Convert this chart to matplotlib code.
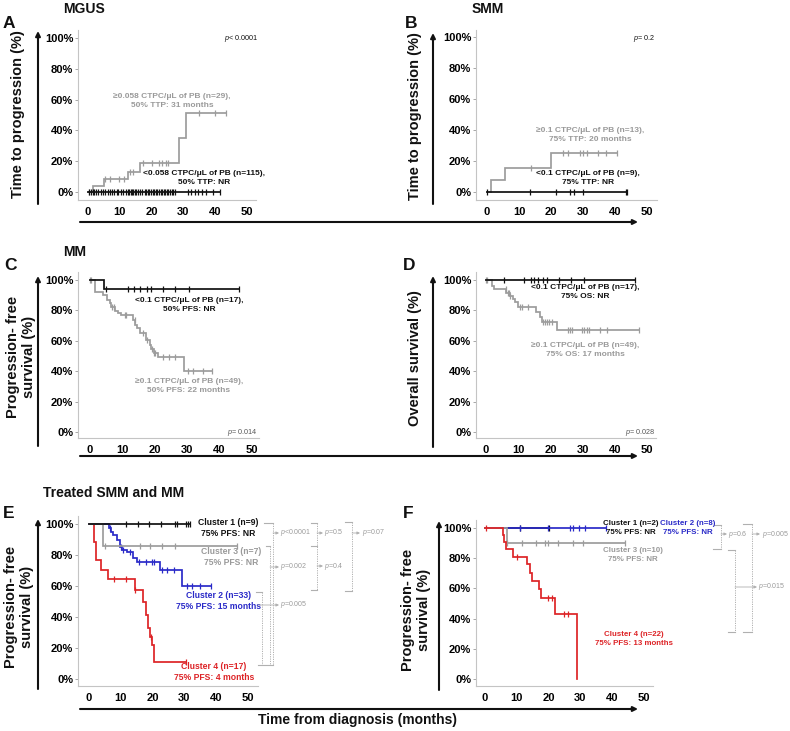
import numpy as np
import matplotlib
matplotlib.use("Agg")
import matplotlib.pyplot as plt

plt.rcParams['font.family'] = ['Liberation Sans', 'DejaVu Sans']
plt.rcParams['mathtext.fontset'] = 'custom'
plt.rcParams['mathtext.rm'] = 'Liberation Sans'
plt.rcParams['mathtext.it'] = 'Liberation Sans:italic'
plt.rcParams['mathtext.bf'] = 'Liberation Sans:bold'

# ---------------- data ----------------
x_ticks = [0, 10, 20, 30, 40, 50]
y_ticks = [0, 20, 40, 60, 80, 100]
y_ticklabels = ["0%", "20%", "40%", "60%", "80%", "100%"]

# Panel A (MGUS, time to progression, cumulative)
A_hi_t = [0, 1.5, 5.0, 12.6, 16.3, 28.5, 30.8]
A_hi_y = [0, 4.2, 8.3, 12.9, 19.0, 35.2, 51.4]
A_hi_end = 43.3
A_hi_cens = [0.2, 5.5, 7.0, 9.8, 11.2, 13.3, 14.0, 17.2, 20.0, 22.2, 23.3, 24.4, 25.2, 34.8, 40.0, 43.3]
A_lo_t = [0]
A_lo_y = [0]
A_lo_end = 41.4
A_lo_cens = [0.3, 1.0, 1.6, 2.0, 2.5, 3.0, 4.2, 4.8, 5.5, 6.2, 7.0, 7.5, 8.3, 9.0, 9.4, 10.5, 11.0,
             12.0, 12.6, 13.0, 13.4, 13.8, 14.2, 14.7, 15.2, 15.8, 16.4, 17.0, 17.8, 18.3, 18.8,
             19.3, 19.8, 20.3, 20.8, 21.3, 21.8, 22.3, 22.8, 23.3, 23.8, 24.3, 24.8, 25.3, 25.8,
             26.3, 26.8, 27.3, 31.5, 32.5, 33.5, 34.5, 36.0, 37.2, 39.3, 41.4]

# Panel B (SMM)
B_hi_t = [0, 1.4, 5.7, 20.1]
B_hi_y = [0, 7.7, 15.4, 25.0]
B_hi_end = 40.5
B_hi_cens = [13.8, 23.9, 25.4, 29.1, 30.1, 31.1, 34.7, 37.1, 40.5]
B_lo_t = [0]
B_lo_y = [0]
B_lo_end = 43.6
B_lo_cens = [0.0, 13.5, 21.5, 26.0, 27.2, 30.0, 43.4, 43.6]

# Panel C (MM, PFS)
C_lo_t = [0, 4.2]
C_lo_y = [100, 94.1]
C_lo_end = 46.0
C_lo_cens = [5.0, 11.7, 13.6, 15.3, 17.7, 18.7, 22.5, 26.3, 30.7, 46.0]
C_hi_t = [0, 1.4, 4.0, 5.4, 6.1, 6.6, 7.6, 8.6, 9.5, 13.3, 14.0, 14.6, 15.3, 17.4, 18.4, 18.9, 19.8, 21.0, 28.9]
C_hi_y = [100, 92.3, 90.1, 86.8, 84.6, 82.4, 79.8, 78.1, 77.0, 73.7, 70.4, 68.2, 64.9, 60.5, 57.2, 54.4, 52.2, 49.5, 39.9]
C_hi_end = 37.8
C_hi_cens = [0.0, 0.3, 6.8, 7.4, 10.7, 11.2, 13.8, 16.4, 17.7, 19.1, 19.9, 20.1, 22.5, 24.3, 26.1,
             30.2, 31.8, 34.9, 37.8]

# Panel D (MM, OS)
D_lo_t = [0]
D_lo_y = [100]
D_lo_end = 46.4
D_lo_cens = [5.5, 11.8, 14.1, 14.8, 16.0, 17.8, 19.0, 22.6, 26.5, 30.5, 46.4]
D_hi_t = [0, 1.8, 2.6, 6.2, 7.4, 8.4, 9.1, 9.9, 15.6, 16.8, 17.3, 22.2]
D_hi_y = [100, 95.9, 93.8, 91.7, 89.6, 87.5, 85.3, 82.0, 79.2, 75.5, 72.2, 67.2]
D_hi_end = 47.5
D_hi_cens = [0.0, 0.4, 6.1, 6.7, 7.1, 7.6, 10.6, 11.1, 13.1, 17.8, 18.3, 18.8, 19.7, 20.4, 25.6,
             26.1, 26.6, 29.7, 30.4, 31.3, 32.1, 35.4, 37.5, 47.5]

# Panel E (treated SMM and MM, clusters)
E_c1_t = [0]
E_c1_y = [100]
E_c1_end = 31.7
E_c1_cens = [11.7, 15.4, 18.8, 22.7, 26.9, 27.8, 30.6, 31.1, 31.7]
E_c3_t = [0, 4.4]
E_c3_y = [100, 85.7]
E_c3_end = 46.5
E_c3_cens = [4.9, 15.9, 19.1, 23.0, 26.9, 46.5]
E_c2_t = [0, 6.2, 6.8, 7.5, 8.9, 9.6, 10.4, 12.0, 13.8, 15.2, 22.2, 29.2]
E_c2_y = [100, 97.2, 95.0, 92.9, 89.7, 85.4, 83.2, 81.7, 78.3, 75.3, 70.3, 60.0]
E_c2_end = 38.5
E_c2_cens = [6.5, 10.2, 10.7, 12.8, 15.8, 17.8, 19.9, 20.4, 23.0, 24.6, 26.7, 30.9, 32.4, 35.0, 38.5]
E_c4_t = [0, 1.6, 2.1, 3.7, 6.0, 14.6, 17.0, 17.8, 18.5, 19.1, 19.8, 20.4]
E_c4_y = [100, 88.2, 76.5, 70.6, 64.7, 57.4, 49.9, 41.3, 32.7, 27.3, 21.9, 11.0]
E_c4_end = 30.6
E_c4_cens = [7.8, 11.5, 14.6, 19.4, 30.6]

# Panel F (clusters)
F_c1_t = [0]
F_c1_y = [100]
F_c1_end = 20.0
F_c1_cens = [11.0, 20.0]
F_c2_t = [0]
F_c2_y = [100]
F_c2_end = 37.9
F_c2_cens = [11.0, 19.9, 26.7, 27.6, 29.7, 31.4, 37.9]
F_c3_t = [0, 6.8]
F_c3_y = [100, 90.0]
F_c3_end = 44.0
F_c3_cens = [7.0, 11.5, 16.0, 18.9, 19.9, 23.1, 27.6, 30.7, 44.0]
F_c4_t = [0, 5.6, 6.1, 6.6, 8.9, 13.3, 14.2, 14.7, 17.0, 17.6, 22.0, 29.0]
F_c4_y = [100, 95.5, 90.9, 85.8, 81.0, 76.0, 70.5, 65.2, 59.6, 53.6, 42.9, 0]
F_c4_end = 29.0
F_c4_cens = [0.2, 10.2, 19.9, 21.0, 24.7, 26.2]

# ---------------- styling ----------------
W, H = 790, 731
BLACK = "#111111"
GRAY = "#9c9c9c"
TGRAY = "#9a9a9a"
BLUE = "#2a2ac8"
RED = "#dd2326"
BR = "#b0b0b0"

fig = plt.figure(figsize=(W / 100, H / 100), dpi=100)


def make_ax(spine_x, px0, px50, right, y100, y0, bottom, top):
    s = (px50 - px0) / 50.0
    xl = (spine_x - px0) / s
    xr = 50 + (right - px50) / s
    t = (y0 - y100) / 100.0
    yb = -(bottom - y0) / t
    yt = 100 + (y100 - top) / t
    ax = fig.add_axes([spine_x / W, 1 - bottom / H, (right - spine_x) / W, (bottom - top) / H])
    ax.set_xlim(xl, xr)
    ax.set_ylim(yb, yt)
    ax.patch.set_alpha(0)
    for sp in ("top", "right"):
        ax.spines[sp].set_visible(False)
    for sp in ("left", "bottom"):
        ax.spines[sp].set_color("#c4c4c4")
        ax.spines[sp].set_linewidth(0.8)
    ax.set_xticks(x_ticks)
    ax.set_xticklabels([str(v) for v in x_ticks], fontsize=8, fontweight="bold")
    ax.set_yticks(y_ticks)
    ax.set_yticklabels(y_ticklabels, fontsize=8, fontweight="bold")
    ax.tick_params(axis="y", length=2.5, width=0.6, color="#999999", pad=1)
    ax.tick_params(axis="x", length=0, pad=5)
    return ax


def km(ax, t, y, end, cens, color, z, lw=1.25):
    t = np.asarray(t, float)
    y = np.asarray(y, float)
    tt = np.append(t, end)
    yy = np.append(y, y[-1])
    ax.step(tt, yy, where="post", color=color, lw=lw, zorder=z, solid_joinstyle="miter")
    c = np.asarray(cens, float)
    idx = np.clip(np.searchsorted(t, c, side="right") - 1, 0, len(y) - 1)
    ax.plot(c, y[idx], ls="none", marker="|", ms=5, mew=0.9, color=color, zorder=z + 0.1)


axA = make_ax(78, 88, 247, 256, 38, 192, 200, 30)
km(axA, A_hi_t, A_hi_y, A_hi_end, A_hi_cens, GRAY, 3)
km(axA, A_lo_t, A_lo_y, A_lo_end, A_lo_cens, BLACK, 4)

axB = make_ax(476, 487, 647, 657, 37, 192, 200, 30)
km(axB, B_hi_t, B_hi_y, B_hi_end, B_hi_cens, GRAY, 3)
km(axB, B_lo_t, B_lo_y, B_lo_end, B_lo_cens, BLACK, 4)

axC = make_ax(78, 90, 252, 259, 280, 432, 438, 272)
km(axC, C_hi_t, C_hi_y, C_hi_end, C_hi_cens, GRAY, 3)
km(axC, C_lo_t, C_lo_y, C_lo_end, C_lo_cens, BLACK, 4)

axD = make_ax(476, 486, 647, 656, 280, 432, 438, 272)
km(axD, D_hi_t, D_hi_y, D_hi_end, D_hi_cens, GRAY, 3)
km(axD, D_lo_t, D_lo_y, D_lo_end, D_lo_cens, BLACK, 4)

axE = make_ax(78, 89, 248, 258, 524, 679, 686, 516)
km(axE, E_c4_t, E_c4_y, E_c4_end, E_c4_cens, RED, 2)
km(axE, E_c2_t, E_c2_y, E_c2_end, E_c2_cens, BLUE, 3)
km(axE, E_c3_t, E_c3_y, E_c3_end, E_c3_cens, GRAY, 4)
km(axE, E_c1_t, E_c1_y, E_c1_end, E_c1_cens, BLACK, 5)

axF = make_ax(476, 485, 644, 653, 528, 679, 686, 520)
km(axF, F_c1_t, F_c1_y, F_c1_end, F_c1_cens, BLACK, 2)
km(axF, F_c2_t, F_c2_y, F_c2_end, F_c2_cens, BLUE, 3)
km(axF, F_c3_t, F_c3_y, F_c3_end, F_c3_cens, GRAY, 4)
km(axF, F_c4_t, F_c4_y, F_c4_end, F_c4_cens, RED, 5)

# ---------------- overlay (pixel coordinates, y downward) ----------------
ov = fig.add_axes([0, 0, 1, 1])
ov.set_xlim(0, W)
ov.set_ylim(H, 0)
ov.axis("off")
ov.patch.set_alpha(0)


def txt(x, y, s, size, color=BLACK, weight="bold", ha="center", va="center", rot=0, ls=1.35):
    ov.text(x, y, s, fontsize=size, color=color, fontweight=weight, ha=ha, va=va,
            rotation=rot, linespacing=ls)


def big_arrow(x1, y1, x2, y2):
    ov.annotate("", xy=(x2, y2), xytext=(x1, y1),
                arrowprops=dict(arrowstyle="-|>", color=BLACK, lw=1.5, mutation_scale=7,
                                shrinkA=0, shrinkB=0))


# axis arrows
big_arrow(38, 204, 38, 31)
big_arrow(433, 204, 433, 33)
big_arrow(38, 446, 38, 276)
big_arrow(433, 447, 433, 276)
big_arrow(38, 689, 38, 519)
big_arrow(439, 690, 439, 521)
big_arrow(80, 222, 638, 222)
big_arrow(80, 456, 638, 456)
big_arrow(80, 709, 638, 709)

# titles / letters
txt(63, 9, "MGUS", 10, ha="left")
txt(472, 9, "SMM", 10, ha="left")
txt(63, 252, "MM", 10, ha="left")
txt(43, 493, "Treated SMM and MM", 10, ha="left")
for (x, y, s) in [(3, 23, "A"), (405, 23, "B"), (4, 265, "C"), (403, 265, "D"), (3, 513, "E"), (403, 513, "F")]:
    txt(x, y, s, 12.5, ha="left")

# y labels
txt(18, 114, "Time to progression (%)", 10.5, rot=90)
txt(415, 116, "Time to progression (%)", 10.5, rot=90)
txt(21, 357, "Progression- free\nsurvival (%)", 10.5, rot=90, ls=1.1)
txt(415, 358, "Overall survival (%)", 10.5, rot=90)
txt(19, 607, "Progression- free\nsurvival (%)", 10.5, rot=90, ls=1.1)
txt(416, 610, "Progression- free\nsurvival (%)", 10.5, rot=90, ls=1.1)
txt(358, 720, "Time from diagnosis (months)", 10)

# annotations A-D
AS = 6.0
txt(172, 101, "\u22650.058 CTPC/\u03bcL of PB (n=29),\n50% TTP: 31 months", AS, color=TGRAY)
txt(204, 178, "<0.058 CTPC/\u03bcL of PB (n=115),\n50% TTP: NR", AS)
txt(258, 38, r"$\mathit{p}$< 0.0001", 5.2, weight="normal", ha="right")
txt(590, 135, "\u22650.1 CTPC/\u03bcL of PB (n=13),\n75% TTP: 20 months", AS, color=TGRAY)
txt(588, 178, "<0.1 CTPC/\u03bcL of PB (n=9),\n75% TTP: NR", AS)
txt(655, 38, r"$\mathit{p}$= 0.2", 5.2, weight="normal", ha="right")
txt(189, 305, "<0.1 CTPC/\u03bcL of PB (n=17),\n50% PFS: NR", AS)
txt(189, 386, "\u22650.1 CTPC/\u03bcL of PB (n=49),\n50% PFS: 22 months", AS, color=TGRAY)
txt(257, 432, r"$\mathit{p}$= 0.014", 5.2, weight="normal", ha="right", color="#555555")
txt(585, 292, "<0.1 CTPC/\u03bcL of PB (n=17),\n75% OS: NR", AS)
txt(585, 350, "\u22650.1 CTPC/\u03bcL of PB (n=49),\n75% OS: 17 months", AS, color=TGRAY)
txt(655, 432, r"$\mathit{p}$= 0.028", 5.2, weight="normal", ha="right", color="#555555")

# annotations E
ES = 6.2
txt(228, 528, "Cluster 1 (n=9)\n75% PFS: NR", ES)
txt(231, 557, "Cluster 3 (n=7)\n75% PFS: NR", ES, color=TGRAY)
txt(219, 601, "Cluster 2 (n=33)\n75% PFS: 15 months", ES, color=BLUE)
txt(214, 672, "Cluster 4 (n=17)\n75% PFS: 4 months", ES, color=RED)

# annotations F
FS = 5.7
txt(631, 528, "Cluster 1 (n=2)\n75% PFS: NR", FS)
txt(688, 528, "Cluster 2 (n=8)\n75% PFS: NR", FS, color=BLUE)
txt(633, 555, "Cluster 3 (n=10)\n75% PFS: NR", FS, color=TGRAY)
txt(634, 639, "Cluster 4 (n=22)\n75% PFS: 13 months", FS, color=RED)


# brackets
def vdot(x, y1, y2):
    ov.plot([x, x], [y1, y2], color=BR, lw=0.7, ls=(0, (1.2, 1.2)))


def hseg(x1, x2, y):
    ov.plot([x1, x2], [y, y], color=BR, lw=0.8)


def parrow(x1, x2, y, label):
    ov.annotate("", xy=(x2, y), xytext=(x1, y),
                arrowprops=dict(arrowstyle="-|>", color=BR, lw=0.6, mutation_scale=4,
                                shrinkA=0, shrinkB=0))
    ov.text(x2 + 1.5, y, r"$\mathit{p}$" + label, fontsize=5, color=TGRAY, ha="left", va="center")


# E
hseg(264, 273, 523); vdot(273, 523, 665)
hseg(266, 270, 546); vdot(270, 546, 665)
hseg(256, 262, 592); vdot(262, 592, 665)
hseg(258, 273, 665)
parrow(273, 279, 533, "<0.0001")
parrow(270, 279, 567, "=0.002")
parrow(258, 279, 605, "=0.005")
hseg(311, 317, 523); hseg(311, 317, 546); hseg(311, 317, 590); vdot(317, 523, 590)
parrow(317, 323, 533, "=0.5")
parrow(317, 323, 566, "=0.4")
hseg(345, 352, 522); hseg(345, 352, 591); vdot(352, 522, 591)
parrow(352, 360, 533, "=0.07")

# F
hseg(714, 721, 525); hseg(713, 721, 549); vdot(721, 525, 549)
parrow(721, 727, 534, "=0.6")
hseg(743, 752, 524); hseg(743, 752, 632); vdot(752, 524, 632)
parrow(752, 760, 534, "=0.005")
hseg(728, 735, 550); hseg(728, 735, 632); vdot(735, 550, 632)
parrow(735, 757, 587, "=0.015")

fig.savefig("out.png", dpi=100)
